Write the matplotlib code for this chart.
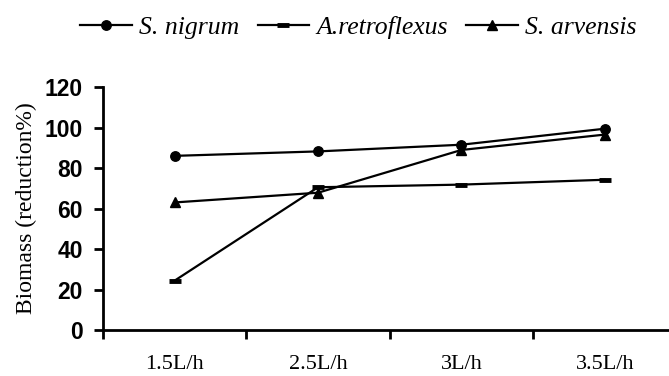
import matplotlib
matplotlib.use("Agg")
import matplotlib.pyplot as plt
import numpy as np

categories = ["1.5L/h", "2.5L/h", "3L/h", "3.5L/h"]
s_nigrum = [86, 88.2, 91.5, 99.4]
a_retroflexus = [24.4, 70.5, 71.8, 74.2]
s_arvensis = [63, 67.8, 88.9, 96.5]
yticks = [0, 20, 40, 60, 80, 100, 120]

fig = plt.figure(figsize=(6.69, 3.76), dpi=100)
ax = fig.add_axes([0.154, 0.1223, 0.857, 0.6463])

x = np.arange(len(categories))
lw = 1.6
ax.plot(x, s_nigrum, color="black", lw=lw, marker="o", ms=6.8, label="S. nigrum")
ax.plot(x, a_retroflexus, color="black", lw=lw, marker="_", ms=9, mew=3.5, label="A.retroflexus")
ax.plot(x, s_arvensis, color="black", lw=lw, marker="^", ms=6.8, label="S. arvensis")

ax.set_xlim(-0.5, 3.5)
ax.set_ylim(0, 120)
ax.set_yticks(yticks)
ax.set_yticklabels([str(v) for v in yticks], fontfamily="Liberation Sans", fontweight="bold", fontsize=16.5)
ax.set_xticks(x)
ax.set_xticklabels(categories, fontfamily="Liberation Serif", fontsize=16)
ax.set_xticks(np.arange(-0.5, 3.6, 1.0), minor=True)
ax.tick_params(axis="x", which="major", length=0, pad=18)
ax.tick_params(axis="x", which="minor", length=6.5, width=2, direction="out")
ax.tick_params(axis="y", length=6.5, width=2, direction="out", pad=8)
for s in ["top", "right"]:
    ax.spines[s].set_visible(False)
for s in ["left", "bottom"]:
    ax.spines[s].set_linewidth(2)
ax.set_ylabel("Biomass (reduction%)", fontfamily="Liberation Serif", fontsize=17)
ax.yaxis.set_label_coords(-0.115, 0.5)

fig.legend(loc="center", bbox_to_anchor=(0.536, 0.928), ncol=3, frameon=False,
           prop={"family": "Liberation Serif", "style": "italic", "size": 18.5},
           handlelength=2.0, handletextpad=0.3, columnspacing=0.7, borderpad=0, borderaxespad=0)

fig.savefig("out.png", dpi=100)
